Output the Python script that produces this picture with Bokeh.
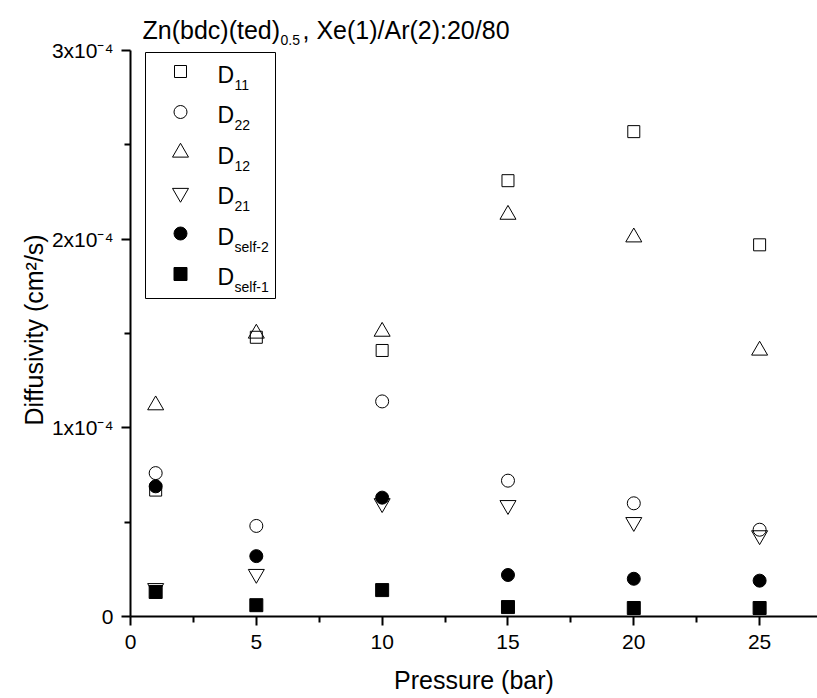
import math
from bokeh.plotting import figure
from bokeh.models import Range1d, FixedTicker, Label, BoxAnnotation, Title
from bokeh.embed import file_html
from bokeh.resources import INLINE

# ---------------- data ----------------
pressure = [1, 5, 10, 15, 20, 25]
d11 = [0.67e-4, 1.48e-4, 1.41e-4, 2.31e-4, 2.57e-4, 1.97e-4]
d22 = [0.76e-4, 0.48e-4, 1.14e-4, 0.72e-4, 0.60e-4, 0.46e-4]
d12 = [1.12e-4, 1.50e-4, 1.51e-4, 2.13e-4, 2.01e-4, 1.41e-4]
d21 = [0.15e-4, 0.225e-4, 0.60e-4, 0.59e-4, 0.50e-4, 0.43e-4]
dself2 = [0.69e-4, 0.32e-4, 0.63e-4, 0.22e-4, 0.20e-4, 0.19e-4]
dself1 = [0.13e-4, 0.06e-4, 0.14e-4, 0.05e-4, 0.045e-4, 0.045e-4]

x_ticks = [0, 5, 10, 15, 20, 25]
x_minor = [2.5, 7.5, 12.5, 17.5, 22.5]
y_ticks = [0, 1e-4, 2e-4, 3e-4]
y_minor = [0.5e-4, 1.5e-4, 2.5e-4]
y_tick_labels = ["0", "1x10\u207b\u2074", "2x10\u207b\u2074", "3x10\u207b\u2074"]

series_sub = ["11", "22", "12", "21", "self-2", "self-1"]
series_vals = [d11, d22, d12, d21, dself2, dself1]
series_marker = ["square", "circle", "triangle", "inverted_triangle", "circle", "square"]
series_filled = [False, False, False, False, True, True]
series_size = [12, 13, 16, 16, 13, 13]

title_main = "Zn(bdc)(ted)"
title_sub = "0.5"
title_rest = ", Xe(1)/Ar(2):20/80"
x_label = "Pressure (bar)"
y_label = "Diffusivity (cm\u00b2/s)"

# ---------------- layout ----------------
W, H = 817, 698
FL, FR, FT, FB = 130, 817, 0, 616      # frame edges in px
AXIS_TOP_PX = 50                       # where 3e-4 sits
X_END = 27.3
Y_MAX = 3e-4
Y_TOP = Y_MAX * (FB - FT) / (FB - AXIS_TOP_PX)
FONT = "Liberation Sans"
BFIX = 6                               # baseline correction (px, upward)


def dx(px):
    return X_END * (px - FL) / (FR - FL)


def dy(py):
    return Y_TOP * (FB - py) / (FB - FT)


def ty(py):
    # y position for text baselines, with correction
    return dy(py - BFIX)


p = figure(width=W, height=H, x_range=Range1d(0, X_END), y_range=Range1d(0, Y_TOP),
           output_backend="svg", toolbar_location=None,
           min_border_left=FL, min_border_right=W - FR,
           min_border_top=FT, min_border_bottom=H - FB)
p.outline_line_color = None
p.grid.visible = False
p.background_fill_color = "white"
p.border_fill_color = "white"

p.xaxis.ticker = FixedTicker(ticks=x_ticks, minor_ticks=x_minor)
p.yaxis.ticker = FixedTicker(ticks=y_ticks, minor_ticks=y_minor)
p.yaxis.bounds = (0, Y_MAX)
for ax in (p.xaxis[0], p.yaxis[0]):
    ax.axis_line_width = 2
    ax.axis_line_color = "black"
    ax.major_tick_line_width = 2
    ax.major_tick_line_color = "black"
    ax.major_tick_out = 9
    ax.major_tick_in = 0
    ax.minor_tick_line_width = 2
    ax.minor_tick_line_color = "black"
    ax.minor_tick_out = 6
    ax.minor_tick_in = 0
    ax.major_label_text_font = FONT
    ax.major_label_text_font_size = "21px"
    ax.major_label_text_color = "black"
    ax.axis_label_text_font = FONT
    ax.axis_label_text_font_size = "25px"
    ax.axis_label_text_font_style = "normal"
    ax.axis_label_text_color = "black"
p.xaxis.major_label_standoff = 9
p.yaxis.major_label_standoff = 8
p.yaxis.major_label_overrides = {v: t for v, t in zip(y_ticks, y_tick_labels)}
p.xaxis.axis_label = x_label
p.xaxis.axis_label_standoff = 14

# y-axis title, anchored from the bottom of the frame so it centres on the drawn axis
p.add_layout(Title(text=y_label, align="left", offset=FB - 425, standoff=2,
                   text_font=FONT, text_font_size="25px", text_font_style="normal",
                   text_color="black"), "left")

# data markers
for vals, mk, filled, sz in zip(series_vals, series_marker, series_filled, series_size):
    p.scatter(pressure, vals, marker=mk, size=sz, line_color="black", line_width=1,
              fill_color="black" if filled else None)

# title (drawn inside the frame, above the axis top)
p.add_layout(Label(x=dx(142), y=ty(35), text=title_main, text_baseline="alphabetic",
                   text_font=FONT, text_font_size="25px", text_color="black"))
p.add_layout(Label(x=dx(280), y=ty(45.5), text=title_sub, text_baseline="alphabetic",
                   text_font=FONT, text_font_size="14px", text_color="black"))
p.add_layout(Label(x=dx(302), y=ty(35), text=title_rest, text_baseline="alphabetic",
                   text_font=FONT, text_font_size="25px", text_color="black"))

# legend
LB_L, LB_R, LB_T, LB_B = 145, 275, 52, 298
p.add_layout(BoxAnnotation(left=dx(LB_L), right=dx(LB_R), top=dy(LB_T), bottom=dy(LB_B),
                           fill_alpha=0, line_color="black", line_alpha=1, line_width=1))
ROW0, STEP = 71, 40.5
for i, (sub, mk, filled, sz) in enumerate(zip(series_sub, series_marker, series_filled, series_size)):
    yy = ROW0 + i * STEP
    p.scatter([dx(180)], [dy(yy)], marker=mk, size=sz, line_color="black", line_width=1,
              fill_color="black" if filled else None)
    p.add_layout(Label(x=dx(217), y=ty(yy + 9.3), text="D", text_baseline="alphabetic",
                       text_font=FONT, text_font_size="23px", text_color="black"))
    p.add_layout(Label(x=dx(234), y=ty(yy + 19.3), text=sub, text_baseline="alphabetic",
                       text_font=FONT, text_font_size="14px", text_color="black"))

open("out.html", "w").write(file_html(p, INLINE))
